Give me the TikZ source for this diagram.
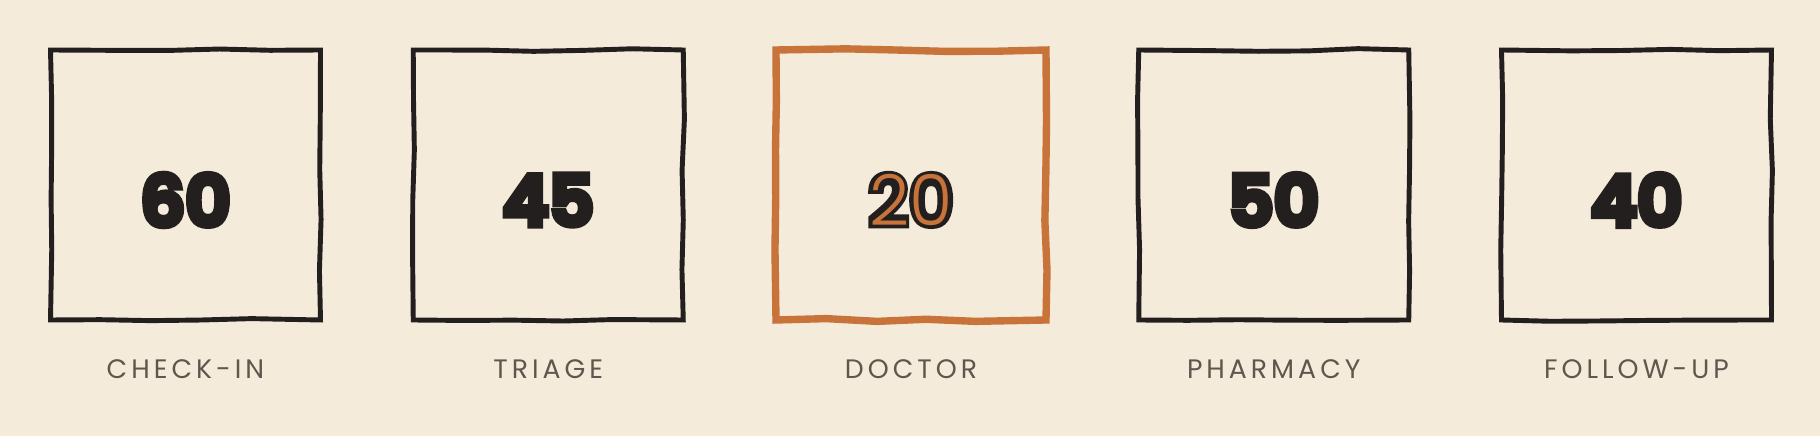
\documentclass[tikz,border=0pt]{standalone}
\usepackage{fontspec}
\usepackage{xcolor}
\usepackage{tikz}
\usetikzlibrary{positioning}
\usetikzlibrary{decorations.pathmorphing}
\setmainfont{Poppins}
\newfontfamily\numfont[FakeBold=8.5]{Poppins ExtraLight}
\newfontfamily\thinnumfont{Poppins Light}
\newfontfamily\labelfont[LetterSpace=15]{Poppins}
\definecolor{paper}{HTML}{F5EBDA}
\definecolor{ink}{HTML}{231F1E}
\definecolor{rust}{HTML}{C8733A}
\definecolor{captiongray}{HTML}{5F574E}
\tikzset{
    stage/.style = {rectangle, draw=ink, line width=1.4pt, minimum width=2.7cm, minimum height=2.7cm, inner sep=0pt, outer sep=0pt,
        decorate, decoration={random steps, segment length=5mm, amplitude=0.14mm}},
    hot_stage/.style = {stage, draw=rust, line width=2.1pt},
    stage_num/.style = {inner sep=0pt, text=ink, font=\numfont\fontsize{20}{20}\selectfont\bfseries},
    hot_num/.style = {inner sep=0pt, text=rust, font=\thinnumfont\fontsize{20}{20}\selectfont},
    stage_label/.style = {inner sep=0pt, text=captiongray, font=\labelfont\fontsize{7.6}{8}\selectfont}
}
\pgfmathsetseed{7}
\begin{document}
\begin{tikzpicture}
    \useasboundingbox[fill=paper] (0,0) rectangle (18.2,4.36);

    \node [stage] (checkin) at (1.855,2.51) {};
    \node [stage, right=0.9275cm of checkin] (triage) {};
    \node [hot_stage, right=0.9275cm of triage] (doctor) {};
    \node [stage, right=0.9275cm of doctor] (pharmacy) {};
    \node [stage, right=0.9275cm of pharmacy] (followup) {};

    \node [stage_num] (checkin_num) at ([yshift=-0.15cm]checkin.center) {60};
    \node [stage_num] (triage_num) at ([yshift=-0.15cm]triage.center) {45};
    \node [stage_num] (doctor_num) at ([yshift=-0.15cm]doctor.center) {20};
    \node [hot_num] (doctor_inner) at (doctor_num.center) {20};
    \node [stage_num] (pharmacy_num) at ([yshift=-0.15cm]pharmacy.center) {50};
    \node [stage_num] (followup_num) at ([yshift=-0.15cm]followup.center) {40};

    \node [stage_label, below=0.39cm of checkin] (checkin_label) {CHECK-IN};
    \node [stage_label, below=0.39cm of triage] (triage_label) {TRIAGE};
    \node [stage_label, below=0.39cm of doctor] (doctor_label) {DOCTOR};
    \node [stage_label, below=0.39cm of pharmacy] (pharmacy_label) {PHARMACY};
    \node [stage_label, below=0.39cm of followup] (followup_label) {FOLLOW-UP};
\end{tikzpicture}
\end{document}
